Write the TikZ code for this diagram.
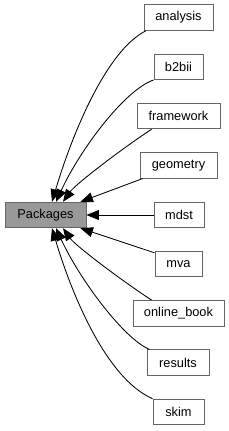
\documentclass[tikz,border=0pt]{standalone}
\usepackage{fontspec}
\setmainfont{Liberation Sans}
\usetikzlibrary{arrows.meta}
\definecolor{boxline}{HTML}{666666}
\definecolor{rootfill}{HTML}{999999}
\begin{document}
\begin{tikzpicture}[x=1pt,y=-1pt,
  pkg/.style={draw=boxline,line width=0.9pt,fill=white,inner sep=0pt,minimum height=25.5pt,font=\fontsize{12.8}{15}\selectfont},
  root/.style={pkg,fill=rootfill},
  dep/.style={line width=0.85pt,-{Triangle[length=12.5pt,width=10pt]}}]
\useasboundingbox (0,0) rectangle (229,431);
\node[root,minimum width=81pt] (pk) at (45.5,215) {Packages};
\node[pkg,minimum width=69pt] (analysis) at (178.5,17.5) {analysis};
\node[pkg,minimum width=49pt] (b2bii) at (178.5,66.8) {b2bii};
\node[pkg,minimum width=83pt] (framework) at (178.5,116.1) {framework};
\node[pkg,minimum width=77pt] (geometry) at (178.5,165.4) {geometry};
\node[pkg,minimum width=50pt] (mdst) at (179,215) {mdst};
\node[pkg,minimum width=47pt] (mva) at (178.5,264) {mva};
\node[pkg,minimum width=91pt] (ob) at (178.5,313.3) {online\_book};
\node[pkg,minimum width=62pt] (results) at (178,362.6) {results};
\node[pkg,minimum width=51pt] (skim) at (178.5,411.9) {skim};
\draw[dep] ([xshift=2.5]analysis.south west) .. controls +(-40,20) and +(20,-67) .. ([xshift=6.5]pk.north);
\draw[dep] (b2bii.south west) .. controls +(-29,10) and +(24,-52) .. ([xshift=10.5]pk.north);
\draw[dep] ([xshift=15]framework.south west) .. controls +(-32,21) and +(12,-17) .. ([xshift=17.5]pk.north);
\draw[dep] ([xshift=3]geometry.south west) -- ([xshift=-6]pk.north east);
\draw[dep] (mdst.west) -- (pk.east);
\draw[dep] ([yshift=-2]mva.north west) -- ([xshift=-6]pk.south east);
\draw[dep] ([xshift=19]ob.north west) .. controls +(-32,-21) and +(12,17) .. ([xshift=17.5]pk.south);
\draw[dep] ([xshift=3]results.north west) .. controls +(-25,-10) and +(24,52) .. ([xshift=10.5]pk.south);
\draw[dep] (skim.north west) .. controls +(-46,-20) and +(20,67) .. ([xshift=6.5]pk.south);
\end{tikzpicture}
\end{document}
